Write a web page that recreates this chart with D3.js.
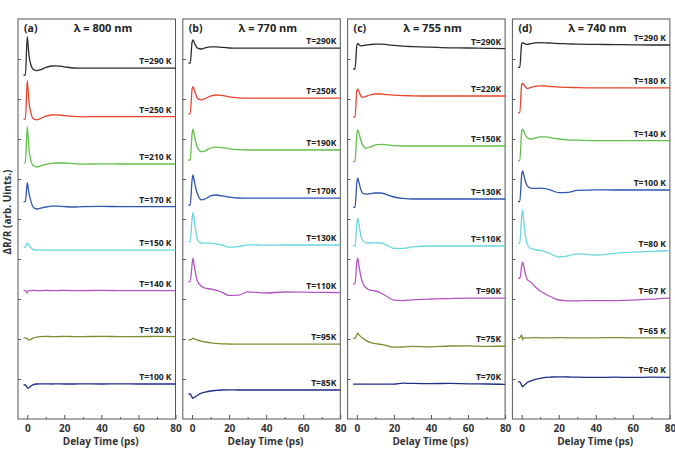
<!DOCTYPE html>
<html>
<head>
<meta charset="utf-8">
<script src="https://cdn.jsdelivr.net/npm/d3@7"></script>
<style>
  body { margin: 0; background: #fff; }
  svg { display: block; font-family: "Open Sans", "DejaVu Sans", sans-serif; }
</style>
</head>
<body>
<div id="chart"></div>
<script>
// delay times (ps) shared by every trace
const times = [-2, -1, 0, 0.5, 1, 2, 3, 5, 7, 10, 13, 16, 20, 25, 30, 40, 50, 60, 70, 80];

const traceColors = ["#2b2b2b", "#e8452e", "#62bf4a", "#2f56b0", "#6ad6df", "#b456c2", "#7e8c30", "#1f2e86"];
const panelTags = ["(a)", "(b)", "(c)", "(d)"];
const wavelengths = ["λ = 800 nm", "λ = 770 nm", "λ = 755 nm", "λ = 740 nm"];

// ---- (a) 800 nm ----
const tempsA = ["T=290 K", "T=250 K", "T=210 K", "T=170 K", "T=150 K", "T=140 K", "T=120 K", "T=100 K"];
const offsetsA = [87.7, 75.6, 63.75, 53.1, 42.2, 32.1, 20.6, 8.75];
const signalsA = [
  [-1.7, -1.7, 7.9, 5.5, 3.0, 0.8, -0.2, -0.6, -0.4, 0.2, 0.55, 0.6, 0.35, 0.05, 0, 0, 0, 0, 0, 0],
  [-0.65, -0.65, 9.0, 6.2, 3.4, 0.8, -0.4, -0.8, -0.5, 0.1, 0.4, 0.45, 0.25, 0.05, -0.05, 0, 0, 0, 0, 0],
  [0.3, 0.3, 9.3, 6.5, 3.5, 0.8, -0.3, -0.7, -0.5, -0.1, 0.15, 0.25, 0.25, 0.1, -0.05, 0.05, 0, 0, 0, 0],
  [1.25, 1.25, 6.0, 4.6, 3.2, 1.3, 0.0, -0.6, -0.4, -0.1, 0.1, 0.1, 0, -0.1, 0, 0.05, 0, 0, 0, 0],
  [0.75, 0.75, 1.75, 1.5, 1.2, 0.6, 0.2, 0, 0, 0, 0, 0, 0, 0, 0, 0, 0, 0, 0, 0],
  [0, 0, -0.6, 0, 0, 0, 0.05, 0, 0, 0.05, 0, 0, 0.05, 0, 0, 0.05, 0, 0, 0, 0],
  [-0.3, -0.3, -0.5, -0.75, -0.8, -0.7, -0.4, -0.15, 0, 0.05, 0, 0, 0.05, 0, 0, 0.05, 0, 0, 0.05, 0],
  [-0.25, -0.25, -0.9, -1.1, -0.9, -0.5, -0.2, 0, 0.05, 0.05, 0, 0.05, 0, 0, 0.05, 0, 0.05, 0, 0, 0]
];

// ---- (b) 770 nm ----
const tempsB = ["T=290K", "T=250K", "T=190K", "T=170K", "T=130K", "T=110K", "T=95K", "T=85K"];
const offsetsB = [92.7, 80.2, 67.25, 55.2, 43.5, 31.6, 18.7, 7.25];
const signalsB = [
  [-3.75, -3.75, 1.5, 2.1, 1.6, 0.6, 0.0, -0.2, 0.1, 0.35, 0.35, 0.2, 0.05, 0, 0, 0, 0, 0, 0, 0],
  [-3.9, -3.9, 2.2, 2.9, 2.3, 1.0, -0.1, -0.4, -0.1, 0.5, 0.8, 0.7, 0.35, 0.1, 0, 0, 0, 0, 0, 0],
  [-2.5, -2.5, 4.0, 5.2, 4.2, 2.0, 0.5, -0.4, -0.2, 0.5, 0.7, 0.6, 0.3, 0.1, 0, 0, 0, 0, 0, 0],
  [-1.7, -1.7, 4.5, 5.8, 4.8, 2.5, 1.0, -0.4, -0.2, 0.6, 0.8, 0.6, 0.3, 0.05, 0, 0, 0, 0, 0, 0],
  [0.8, 0.8, 6.5, 8.1, 6.8, 3.5, 1.2, 0.5, 0.45, 0.45, 0.3, 0, -0.55, -0.4, 0.05, -0.05, 0, 0, 0, 0],
  [2.75, 2.75, 7.0, 8.6, 7.2, 4.5, 2.8, 1.6, 1.1, 0.9, 0.6, 0.1, -0.7, -0.65, 0.2, -0.1, 0.15, 0.1, 0.05, 0],
  [1.1, 1.1, 1.3, 1.5, 1.4, 1.2, 1.0, 0.75, 0.55, 0.35, 0.2, 0.1, 0.05, 0, 0, 0, 0, 0, 0, 0],
  [-1.0, -1.0, -1.8, -2.1, -1.9, -1.6, -1.3, -0.8, -0.55, -0.25, -0.1, 0, 0.05, 0, 0, 0, 0, 0, 0, 0]
];

// ---- (c) 755 nm ----
const tempsC = ["T=290K", "T=220K", "T=150K", "T=130K", "T=110K", "T=90K", "T=75K", "T=70K"];
const offsetsC = [92.6, 80.75, 68.25, 55.0, 43.25, 30.2, 18.25, 8.7];
const signalsC = [
  [-5.1, -5.1, 0.8, 1.3, 1.1, 0.7, 0.75, 0.9, 1.0, 1.1, 1.1, 1.0, 0.8, 0.6, 0.5, 0.35, 0.2, 0.15, 0.05, 0],
  [-5.3, -5.3, 1.4, 1.7, 1.3, 0.1, -0.3, -0.1, 0.25, 0.5, 0.5, 0.35, 0.2, 0.1, 0.05, 0, 0, 0, 0, 0],
  [-3.9, -3.9, 3.0, 4.0, 3.4, 1.7, 0.4, -0.55, -0.3, 0.3, 0.4, 0.3, 0.1, 0, 0, 0, 0, 0, 0, 0],
  [-2.1, -2.1, 4.2, 5.2, 4.4, 2.6, 1.5, 1.2, 1.3, 1.5, 1.5, 1.1, 0.5, 0.15, 0, 0, 0, 0, 0, 0],
  [0, 0, 5.5, 6.9, 5.8, 3.0, 1.5, 0.8, 0.75, 0.8, 0.75, 0.2, -0.6, -0.6, -0.2, 0, 0, 0, 0, 0],
  [3.6, 3.6, 9.0, 10.0, 8.5, 5.8, 4.0, 2.6, 2.0, 1.8, 1.3, 0.5, -0.5, -0.6, -0.4, -0.2, -0.1, 0, 0, 0],
  [1.9, 1.9, 2.8, 3.2, 2.9, 2.4, 2.0, 1.4, 0.9, 0.6, 0.4, 0.1, -0.3, -0.25, -0.1, -0.2, 0, 0.05, -0.1, 0],
  [0, 0, 0, 0, 0, 0, 0, 0, 0, 0, 0, 0, 0, 0.25, 0.2, 0.15, 0.2, 0.1, 0.05, -0.05]
];

// ---- (d) 740 nm ----
const tempsD = ["T=290 K", "T=180 K", "T=140 K", "T=100 K", "T=80 K", "T=67 K", "T=65 K", "T=60 K"];
const offsetsD = [93.5, 82.8, 69.6, 57.25, 42.1, 30.3, 20.3, 10.4];
const signalsD = [
  [-5.6, -5.6, 0.3, 0.6, 0.5, 0.2, 0.15, 0.35, 0.55, 0.6, 0.55, 0.45, 0.35, 0.3, 0.2, 0.15, 0.1, 0.05, 0, 0],
  [-6.25, -6.25, 0.7, 1.1, 0.9, 0.2, -0.15, 0.1, 0.35, 0.5, 0.45, 0.3, 0.15, 0.1, 0.05, 0, 0, 0, 0, 0],
  [-5.0, -5.0, 2.2, 2.85, 2.5, 1.4, 0.7, 0.4, 0.6, 0.95, 0.95, 0.7, 0.4, 0.2, 0.1, 0, 0, 0, 0, 0],
  [-2.9, -2.9, 3.8, 4.8, 4.0, 2.2, 1.1, 0.45, 0.4, 0.45, 0.35, -0.1, -0.65, -0.6, -0.1, 0.05, 0, 0, 0, 0],
  [1.85, 1.85, 8.5, 10.2, 8.0, 4.0, 1.5, 0.5, 0.3, 0, -0.3, -0.9, -1.6, -1.3, -0.8, -1.1, -0.7, -0.4, -0.2, 0],
  [4.85, 4.85, 8.0, 9.0, 8.2, 6.0, 4.6, 3.9, 2.9, 1.7, 0.9, 0.2, -0.55, -0.75, -0.75, -0.7, -0.7, -0.6, -0.35, 0],
  [0, 0, 0.7, -0.5, 0, 0, 0, 0, 0.05, 0, 0, 0, 0.05, 0, 0, 0, 0.05, 0, 0, 0],
  [-1.1, -1.1, -2.0, -2.35, -2.1, -1.7, -1.3, -0.85, -0.55, -0.25, 0, 0.1, 0.15, 0.1, 0.05, 0, 0.05, 0, 0.05, 0]
];

const panels = [
  {temps: tempsA, offsets: offsetsA, signals: signalsA},
  {temps: tempsB, offsets: offsetsB, signals: signalsB},
  {temps: tempsC, offsets: offsetsC, signals: signalsC},
  {temps: tempsD, offsets: offsetsD, signals: signalsD}
];

const W = 675, H = 452;
const plotTop = 19, plotBottom = 419;
const panelLeft = 18, panelStep = 164.8, panelW = 157.5;

const svg = d3.select("#chart").append("svg")
  .attr("width", W)
  .attr("height", H);

const y = d3.scaleLinear().domain([0, 100]).range([plotBottom, plotTop]);

//shared y axis title
svg.append("text")
  .attr("transform", "translate(11," + 212 + ") rotate(-90)")
  .attr("text-anchor", "middle")
  .attr("font-size", "10px")
  .attr("font-weight", "bold")
  .attr("fill", "#333")
  .text("ΔR/R (arb. Uints.)");

panels.forEach((p, k) => {
  const x0 = panelLeft + k * panelStep;
  const x = d3.scaleLinear().domain([-5, 80]).range([x0, x0 + panelW]);
  const g = svg.append("g").attr("class", "panel");

  //minor ticks on bottom
  g.append("g")
    .attr("transform", "translate(0," + plotBottom + ")")
    .call(d3.axisBottom(x).tickValues([10, 30, 50, 70]).tickSizeInner(-2).tickSizeOuter(0).tickFormat(""))
    .call(a => a.select(".domain").remove())
    .call(a => a.selectAll("line").attr("stroke", "#555"));

  //major ticks + labels
  g.append("g")
    .attr("transform", "translate(0," + plotBottom + ")")
    .call(d3.axisBottom(x).tickValues([0, 20, 40, 60, 80]).tickSizeInner(-4).tickSizeOuter(0).tickPadding(6))
    .call(a => a.select(".domain").remove())
    .call(a => a.selectAll("line").attr("stroke", "#555"))
    .call(a => a.selectAll("text")
      .attr("font-size", "10px")
      .attr("font-weight", "bold")
      .attr("fill", "#333")
      .attr("font-family", "'Open Sans', sans-serif"));

  //left ticks (no labels)
  g.append("g")
    .attr("transform", "translate(" + x0 + ",0)")
    .call(d3.axisLeft(y).tickValues(d3.range(10, 100, 10)).tickSizeInner(-3).tickSizeOuter(0).tickFormat(""))
    .call(a => a.select(".domain").remove())
    .call(a => a.selectAll("line").attr("stroke", "#555"));

  //frame
  g.append("rect")
    .attr("x", x0)
    .attr("y", plotTop)
    .attr("width", panelW)
    .attr("height", plotBottom - plotTop)
    .attr("fill", "none")
    .attr("stroke", "#555")
    .attr("stroke-width", 1);

  //x axis title
  g.append("text")
    .attr("x", x0 + panelW / 2 + 4)
    .attr("y", 445)
    .attr("text-anchor", "middle")
    .attr("font-size", "10px")
    .attr("font-weight", "bold")
    .attr("fill", "#333")
    .text("Delay Time (ps)");

  //panel tag and wavelength
  g.append("text")
    .attr("x", x0 + 6)
    .attr("y", 32)
    .attr("font-size", "10.5px")
    .attr("font-weight", "bold")
    .attr("fill", "#222")
    .text(panelTags[k]);
  g.append("text")
    .attr("x", x0 + 85)
    .attr("y", 32)
    .attr("text-anchor", "middle")
    .attr("font-size", "11px")
    .attr("font-weight", "bold")
    .attr("fill", "#222")
    .text(wavelengths[k]);

  //traces
  const line = d3.line()
    .curve(d3.curveMonotoneX)
    .x(d => x(d[0]))
    .y(d => y(d[1]));

  p.signals.forEach((s, i) => {
    const pts = times.map((t, j) => [t, p.offsets[i] + s[j]]);
    g.append("path")
      .attr("d", line(pts))
      .attr("fill", "none")
      .attr("stroke", traceColors[i])
      .attr("stroke-width", 1.3);

    g.append("text")
      .attr("x", x(80) - 4)
      .attr("y", y(p.offsets[i]) - 4)
      .attr("text-anchor", "end")
      .attr("font-size", "8.5px")
      .attr("font-weight", "bold")
      .attr("fill", "#222")
      .text(p.temps[i]);
  });
});
</script>
</body>
</html>
